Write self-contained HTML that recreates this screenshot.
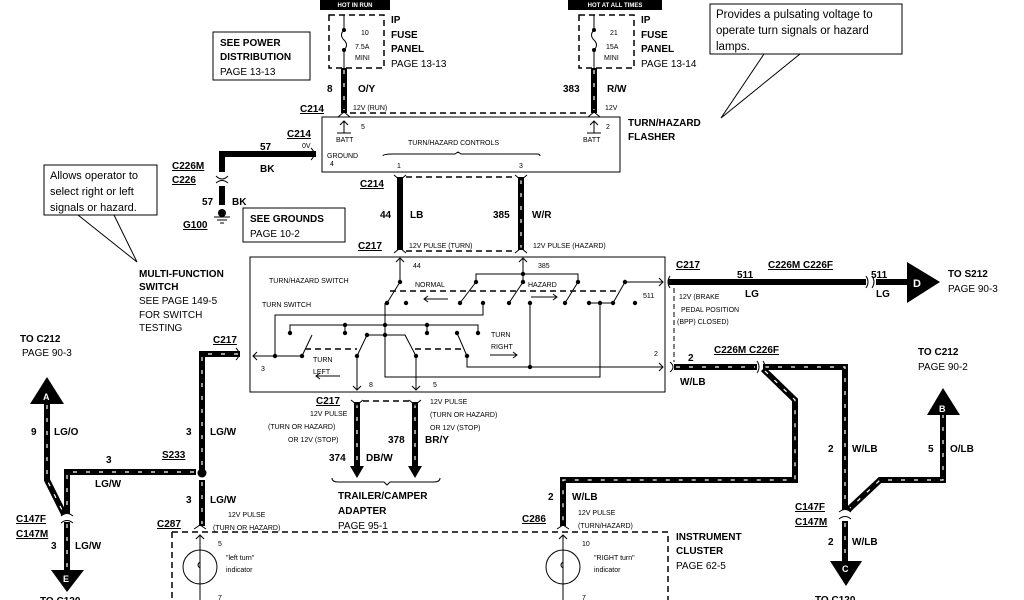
<!DOCTYPE html>
<html><head><meta charset="utf-8"><style>
html,body{margin:0;padding:0;background:#fff;width:1024px;height:600px;overflow:hidden}
svg{display:block}
text{font-family:"Liberation Sans",sans-serif;fill:#000}
.b{font-weight:bold;font-size:10px}
.s{font-size:7px}
.sb{font-size:7.5px;font-weight:bold}
.m{font-size:10px}
.u{text-decoration:underline;font-weight:bold;font-size:10px}
.w{fill:none;stroke:#000;stroke-width:6}
.wd{fill:none;stroke:#fff;stroke-width:1.2;stroke-dasharray:4 9}
.t{fill:none;stroke:#000;stroke-width:1}
.d{fill:none;stroke:#000;stroke-width:1.5;stroke-dasharray:6 4}
</style></head><body>
<svg width="1024" height="600" viewBox="0 0 1024 600" xmlns="http://www.w3.org/2000/svg">
<rect x="320" y="0" width="70" height="10" fill="#000"/>
<text x="355" y="7" font-size="6" style="fill:#fff" text-anchor="middle" font-weight="bold">HOT IN RUN</text>
<rect x="568" y="0" width="94" height="10" fill="#000"/>
<text x="615" y="7" font-size="6" style="fill:#fff" text-anchor="middle" font-weight="bold">HOT AT ALL TIMES</text>
<rect x="329" y="15" width="55" height="53" class="d"/>
<path d="M344 15 V30 M344 50 V68" class="t"/>
<path d="M344 30 q-5 5 0 10 q5 5 0 10" class="t"/>
<circle cx="344" cy="30" r="2"/><circle cx="344" cy="50" r="2"/>
<text x="361" y="35" class="s">10</text><text x="355" y="49" class="s">7.5A</text><text x="355" y="60" class="s">MINI</text>
<rect x="579" y="15" width="55" height="53" class="d"/>
<path d="M594 15 V30 M594 50 V68" class="t"/>
<path d="M594 30 q-5 5 0 10 q5 5 0 10" class="t"/>
<circle cx="594" cy="30" r="2"/><circle cx="594" cy="50" r="2"/>
<text x="610" y="35" class="s">21</text><text x="606" y="49" class="s">15A</text><text x="604" y="60" class="s">MINI</text>
<text x="391" y="23" class="b">IP</text><text x="391" y="38" class="b">FUSE</text><text x="391" y="52" class="b">PANEL</text><text x="391" y="67" class="m">PAGE 13-13</text>
<text x="641" y="23" class="b">IP</text><text x="641" y="38" class="b">FUSE</text><text x="641" y="52" class="b">PANEL</text><text x="641" y="67" class="m">PAGE 13-14</text>
<rect x="213" y="32" width="97" height="48" class="t"/>
<text x="220" y="46" class="b">SEE POWER</text><text x="220" y="60" class="b">DISTRIBUTION</text><text x="220" y="75" class="m">PAGE 13-13</text>
<path d="M764 54 L721 118 L800 54" class="t"/>
<rect x="710" y="4" width="192" height="50" fill="#fff" stroke="#000"/>
<text x="716" y="18" font-size="11.5">Provides a pulsating voltage to</text>
<text x="716" y="34" font-size="11.5">operate turn signals or hazard</text>
<text x="716" y="50" font-size="11.5">lamps.</text>
<path d="M344 68 V113 M594 68 V113" class="w"/><path d="M344 70 V110 M594 70 V110" class="wd"/>
<path d="M338 117 l6 -5 l6 5 M588 117 l6 -5 l6 5" class="t" stroke-width="2"/>
<path d="M350 113 H588" class="d"/>
<text x="327" y="92" class="b">8</text><text x="358" y="92" class="b">O/Y</text>
<text x="563" y="92" class="b">383</text><text x="607" y="92" class="b">R/W</text>
<text x="300" y="112" class="u">C214</text><text x="353" y="110" class="s">12V (RUN)</text><text x="605" y="110" class="s">12V</text>
<rect x="322" y="117" width="298" height="55" class="t" stroke-width="2"/>
<path d="M344 133 V121 M340 125 l4 -4 l4 4 M337 133 H351 M594 133 V121 M590 125 l4 -4 l4 4 M587 133 H601" class="t"/>
<text x="336" y="142" class="s">BATT</text><text x="361" y="129" class="s">5</text>
<text x="583" y="142" class="s">BATT</text><text x="606" y="129" class="s">2</text>
<text x="408" y="145" class="s">TURN/HAZARD  CONTROLS</text>
<path d="M383 156 q0 -2 10 -2 H455 l3 -2 l3 2 H537 q3 0 3 2" class="t"/>
<text x="327" y="158" class="s">GROUND</text><text x="330" y="166" class="s">4</text>
<text x="397" y="168" class="s">1</text><text x="519" y="168" class="s">3</text>
<text x="628" y="126" class="b">TURN/HAZARD</text><text x="628" y="140" class="b">FLASHER</text>
<path d="M316 154 H222 V172 M222 186 V205" class="w"/>
<path d="M311 148 q6 6 0 12" class="t" stroke-width="2"/>
<path d="M216 176 q6 6 12 0 M216 183 q6 -5 12 0" class="t" stroke-width="2"/>
<circle cx="222" cy="213" r="4"/><path d="M214 217 H230 M217 220 H227 M220 223 H224" class="t"/>
<text x="287" y="137" class="u">C214</text><text x="302" y="148" class="s">0V</text>
<text x="260" y="150" class="b">57</text><text x="260" y="172" class="b">BK</text>
<text x="172" y="169" class="u">C226M</text><text x="172" y="183" class="u">C226</text>
<text x="202" y="205" class="b">57</text><text x="232" y="205" class="b">BK</text>
<text x="183" y="228" class="u">G100</text>
<rect x="243" y="208" width="102" height="34" class="t"/>
<text x="250" y="222" class="b">SEE GROUNDS</text><text x="250" y="237" class="m">PAGE 10-2</text>
<path d="M78 215 L137 262 L114 215" class="t"/>
<rect x="44" y="165" width="113" height="50" fill="#fff" stroke="#000"/>
<text x="50" y="179" font-size="11">Allows operator to</text>
<text x="50" y="195" font-size="11">select right or left</text>
<text x="50" y="211" font-size="11">signals or hazard.</text>
<text x="139" y="277" class="b">MULTI-FUNCTION</text><text x="139" y="290" class="b">SWITCH</text>
<text x="139" y="304" class="m">SEE PAGE 149-5</text><text x="139" y="318" class="m">FOR SWITCH</text><text x="139" y="331" class="m">TESTING</text>
<path d="M400 177 V250" class="w"/><path d="M521 177 V250 " class="w"/><path d="M521 180 V248" class="wd"/>
<path d="M394 175 l6 5 l6 -5 M515 175 l6 5 l6 -5 M394 253 l6 -5 l6 5 M515 253 l6 -5 l6 5" class="t" stroke-width="2"/>
<path d="M406 177 H515 M406 251 H515" class="d"/>
<text x="360" y="187" class="u">C214</text><text x="358" y="249" class="u">C217</text>
<text x="380" y="218" class="b">44</text><text x="410" y="218" class="b">LB</text>
<text x="493" y="218" class="b">385</text><text x="532" y="218" class="b">W/R</text>
<text x="409" y="248" class="s">12V PULSE (TURN)</text><text x="533" y="248" class="s">12V PULSE (HAZARD)</text>
<rect x="250" y="257" width="415" height="135" class="t" stroke-width="2"/>
<g class="t">
<path d="M400 282 V258 M396 262 l4 -4 l4 4"/><path d="M523 282 V258 M519 262 l4 -4 l4 4"/>
<path d="M476 282 V274 H578 V282"/>
<path d="M400 282 L387 303 M476 282 L460 303 M523 282 L509 303 M578 282 L565 303 M625 282 L613 303"/>
<path d="M625 282 H663 M659 278 l4 4 l-4 4"/>
<path d="M483 303 V315 H275 V356"/>
<path d="M290 333 V325 H478 V333 M345 325 V333 M427 325 V333"/>
<path d="M253 356 H302 M257 352 l-4 4 l4 4"/>
<path d="M302 356 L312 335 M357 356 L367 335 H405 L416 356 M457 333 L467 356"/>
<path d="M385 303 V377 H600 V303"/>
<path d="M357 356 V390 M353 386 l4 4 l4 -4 M416 356 V390 M412 386 l4 4 l4 -4"/>
<path d="M467 356 V367 H663 M659 363 l4 4 l-4 4 M530 367 V303"/>
<path d="M589 303 H613"/>
</g>
<path d="M390 291 H617 M305 349 H357 M415 349 H462" class="d" stroke-width="1"/>
<g>
<circle cx="400" cy="282" r="2.2"/><circle cx="387" cy="303" r="2.2"/><circle cx="406" cy="303" r="2.2"/>
<circle cx="476" cy="282" r="2.2"/><circle cx="523" cy="274" r="2.2"/><circle cx="523" cy="282" r="2.2"/><circle cx="578" cy="282" r="2.2"/><circle cx="625" cy="282" r="2.2"/>
<circle cx="460" cy="303" r="2.2"/><circle cx="483" cy="303" r="2.2"/><circle cx="509" cy="303" r="2.2"/><circle cx="530" cy="303" r="2.2"/><circle cx="565" cy="303" r="2.2"/><circle cx="589" cy="303" r="2.2"/><circle cx="600" cy="303" r="2.2"/><circle cx="613" cy="303" r="2.2"/><circle cx="635" cy="303" r="2.2"/>
<circle cx="385" cy="325" r="2.2"/><circle cx="345" cy="325" r="2.2"/><circle cx="427" cy="325" r="2.2"/>
<circle cx="290" cy="333" r="2.2"/><circle cx="345" cy="333" r="2.2"/><circle cx="427" cy="333" r="2.2"/><circle cx="478" cy="333" r="2.2"/>
<circle cx="367" cy="335" r="2.2"/><circle cx="385" cy="335" r="2.2"/><circle cx="457" cy="333" r="2.2"/>
<circle cx="275" cy="356" r="2.2"/><circle cx="302" cy="356" r="2.2"/><circle cx="357" cy="356" r="2.2"/><circle cx="416" cy="356" r="2.2"/><circle cx="467" cy="356" r="2.2"/><circle cx="530" cy="367" r="2.2"/>
</g>
<text x="269" y="283" class="s">TURN/HAZARD  SWITCH</text><text x="262" y="307" class="s">TURN  SWITCH</text>
<text x="413" y="268" class="s">44</text><text x="538" y="268" class="s">385</text>
<text x="415" y="287" class="s">NORMAL</text><text x="528" y="287" class="s">HAZARD</text>
<path d="M448 299 H424 M428 296 l-4 3 l4 3 M531 297 H557 M553 294 l4 3 l-4 3 M490 355 H517 M513 352 l4 3 l-4 3 M340 376 H316 M320 373 l-4 3 l4 3" class="t"/>
<text x="643" y="298" class="s">511</text><text x="654" y="356" class="s">2</text><text x="261" y="371" class="s">3</text>
<text x="491" y="337" class="s">TURN</text><text x="491" y="349" class="s">RIGHT</text>
<text x="313" y="362" class="s">TURN</text><text x="313" y="374" class="s">LEFT</text>
<text x="369" y="387" class="s">8</text><text x="433" y="387" class="s">5</text>
<path d="M668 282 H866 M876 282 H910" class="w"/>
<path d="M670 276 q-4 6 0 12" class="t" stroke-width="2"/>
<path d="M866 276 q4 6 0 12 M872 276 q4 6 0 12" class="t" stroke-width="2"/>
<path d="M907 262 L940 282 L907 303 Z"/>
<text x="913" y="287" style="fill:#fff" font-size="11" font-weight="bold">D</text>
<text x="676" y="268" class="u">C217</text><text x="768" y="268" class="u">C226M C226F</text>
<text x="737" y="278" class="b">511</text><text x="871" y="278" class="b">511</text>
<text x="745" y="297" class="b">LG</text><text x="876" y="297" class="b">LG</text>
<text x="948" y="277" class="b">TO S212</text><text x="948" y="292" class="m">PAGE 90-3</text>
<text x="679" y="299" class="s">12V (BRAKE</text><text x="681" y="312" class="s">PEDAL POSITION</text><text x="677" y="324" class="s">(BPP)  CLOSED)</text>
<path d="M674 288 V362" class="t" stroke-dasharray="5 3"/>
<path d="M674 367 H757 M763 367 H845 V510 M763 369 L795 400 V480 H563 V526" class="w"/>
<path d="M676 367 H755 M765 367 H845 V508 M765 371 L795 400 V480 H563 V524" class="wd"/>
<path d="M757 361 q4 6 0 12 M763 361 q4 6 0 12" class="t" stroke-width="2"/>
<path d="M670 362 q6 5 0 10" class="t" stroke-width="2"/>
<path d="M943 412 V480 H880 L848 510" class="w"/><path d="M943 414 V480 H880 L850 508" class="wd"/>
<path d="M839 512 q6 -5 12 0 M839 519 q6 -5 12 0" class="t" stroke-width="2"/>
<path d="M845 521 V562" class="w"/><path d="M845 523 V560" class="wd"/>
<path d="M927 415 L943 388 L960 415 Z"/><text x="939" y="412" style="fill:#fff" font-size="9" font-weight="bold">B</text>
<path d="M830 561 L862 561 L846 586 Z"/><text x="842" y="572" style="fill:#fff" font-size="9" font-weight="bold">C</text>
<text x="688" y="361" class="b">2</text><text x="680" y="385" class="b">W/LB</text>
<text x="714" y="353" class="u">C226M C226F</text>
<text x="918" y="355" class="b">TO C212</text><text x="918" y="370" class="m">PAGE 90-2</text>
<text x="828" y="452" class="b">2</text><text x="852" y="452" class="b">W/LB</text>
<text x="928" y="452" class="b">5</text><text x="950" y="452" class="b">O/LB</text>
<text x="795" y="510" class="u">C147F</text><text x="795" y="525" class="u">C147M</text>
<text x="828" y="545" class="b">2</text><text x="852" y="545" class="b">W/LB</text>
<text x="548" y="500" class="b">2</text><text x="572" y="500" class="b">W/LB</text>
<text x="522" y="522" class="u">C286</text>
<text x="578" y="515" class="s">12V PULSE</text><text x="578" y="528" class="s">(TURN/HAZARD)</text>
<text x="815" y="603" class="b">TO C120</text>
<path d="M172 532 H668 V600 M172 532 V600" class="d"/>
<path d="M557 529 l6 -4 l6 4 M194 529 l6 -4 l6 4" class="t" stroke-width="2"/>
<text x="676" y="540" class="b">INSTRUMENT</text><text x="676" y="554" class="b">CLUSTER</text><text x="676" y="569" class="m">PAGE 62-5</text>
<circle cx="563" cy="567" r="17" class="t" stroke-width="1.5"/>
<path d="M563 535 V600 M559 539 l4 -4 l4 4" class="t"/>
<path d="M563 562 q-4 3 0 6" class="t"/>
<text x="582" y="546" class="s">10</text><text x="594" y="560" class="s">"RIGHT  turn"</text><text x="594" y="572" class="s">indicator</text><text x="582" y="600" class="s">7</text>
<circle cx="200" cy="567" r="17" class="t" stroke-width="1.5"/>
<path d="M200 535 V600 M196 539 l4 -4 l4 4" class="t"/>
<path d="M200 562 q-4 3 0 6" class="t"/>
<text x="218" y="546" class="s">5</text><text x="226" y="560" class="s">"left turn"</text><text x="226" y="572" class="s">indicator</text><text x="218" y="600" class="s">7</text>
<path d="M240 354 H202 V470 M202 480 V526 M196 472 H67 V514 M47 403 V480 L64 514 M67 522 V570" class="w"/>
<path d="M238 354 H202 V468 M202 482 V524 M194 472 H67 V512 M47 405 V480 L63 512 M67 524 V568" class="wd"/>
<path d="M236 348 q6 6 0 12" class="t" stroke-width="2"/>
<circle cx="202" cy="473" r="4.5"/>
<path d="M61 516 q6 -5 12 0 M61 523 q6 -5 12 0" class="t" stroke-width="2"/>
<path d="M30 404 L47 377 L64 404 Z"/><text x="43" y="400" style="fill:#fff" font-size="9" font-weight="bold">A</text>
<path d="M51 570 L84 570 L67 592 Z"/><text x="63" y="582" style="fill:#fff" font-size="9" font-weight="bold">E</text>
<text x="20" y="342" class="b">TO C212</text><text x="22" y="356" class="m">PAGE 90-3</text>
<text x="213" y="343" class="u">C217</text>
<text x="31" y="435" class="b">9</text><text x="54" y="435" class="b">LG/O</text>
<text x="106" y="463" class="b">3</text><text x="95" y="487" class="b">LG/W</text>
<text x="186" y="435" class="b">3</text><text x="210" y="435" class="b">LG/W</text>
<text x="162" y="458" class="u">S233</text>
<text x="186" y="503" class="b">3</text><text x="210" y="503" class="b">LG/W</text>
<text x="228" y="517" class="s">12V PULSE</text><text x="213" y="530" class="s">(TURN OR HAZARD)</text>
<text x="157" y="527" class="u">C287</text>
<text x="16" y="522" class="u">C147F</text><text x="16" y="537" class="u">C147M</text>
<text x="51" y="549" class="b">3</text><text x="75" y="549" class="b">LG/W</text>
<text x="40" y="604" class="b">TO C120</text>
<path d="M357 402 V466 M415 402 V466" class="w"/><path d="M357 404 V464 M415 404 V464" class="wd"/>
<path d="M350 466 L357 478 L364 466 Z M408 466 L415 478 L422 466 Z"/>
<path d="M351 400 l6 5 l6 -5 M409 400 l6 5 l6 -5" class="t" stroke-width="2"/>
<path d="M363 401 H409" class="d"/>
<path d="M332 478 q0 4 6 4 H384 l3 3 l3 -3 H434 q6 0 6 -4" class="t" stroke-width="1.5"/>
<text x="316" y="404" class="u">C217</text>
<text x="310" y="416" class="s">12V PULSE</text><text x="268" y="429" class="s">(TURN OR HAZARD)</text><text x="288" y="442" class="s">OR 12V (STOP)</text>
<text x="430" y="404" class="s">12V PULSE</text><text x="430" y="417" class="s">(TURN OR HAZARD)</text><text x="430" y="430" class="s">OR 12V (STOP)</text>
<text x="388" y="443" class="b">378</text><text x="425" y="443" class="b">BR/Y</text>
<text x="329" y="461" class="b">374</text><text x="366" y="461" class="b">DB/W</text>
<text x="338" y="499" class="b">TRAILER/CAMPER</text><text x="338" y="514" class="b">ADAPTER</text><text x="338" y="529" class="m">PAGE 95-1</text>
</svg>
</body></html>
